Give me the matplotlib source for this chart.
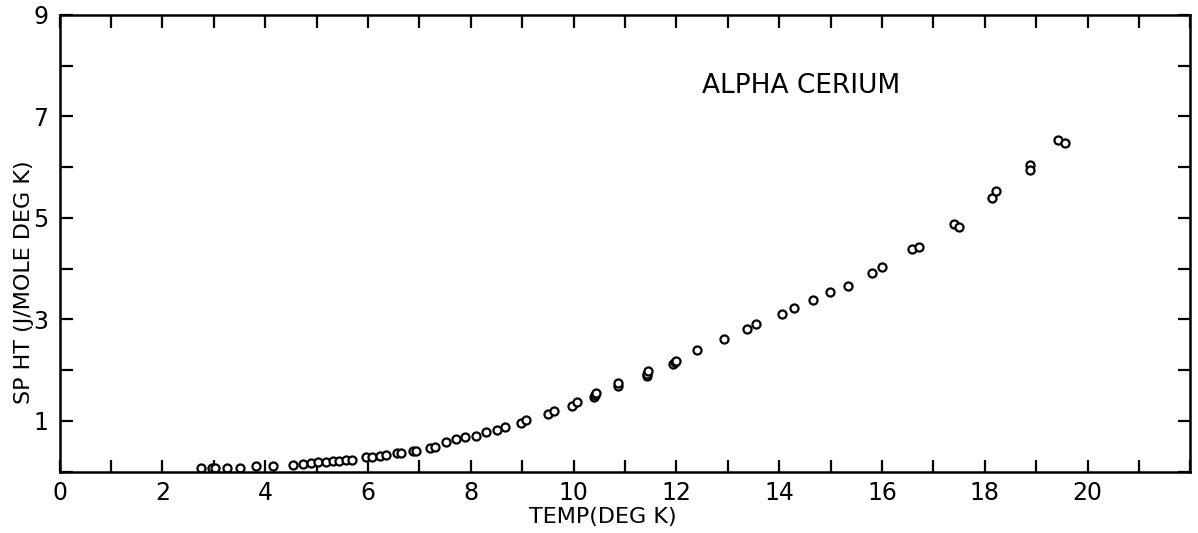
import matplotlib
matplotlib.use("Agg")
import matplotlib.pyplot as plt
from matplotlib.ticker import FixedLocator, FuncFormatter

#
# --- Data (temperature in K, specific heat in J/mole K)
#
temp_k = [
    2.76, 2.96, 3.02, 3.25, 3.51, 3.83, 4.16, 4.54, 4.74, 4.90,
    5.03, 5.19, 5.31, 5.44, 5.58, 5.68, 5.96, 6.07, 6.23, 6.35,
    6.57, 6.65, 6.88, 6.94, 7.20, 7.30, 7.51, 7.71, 7.88, 8.11,
    8.29, 8.51, 8.67, 8.98, 9.08, 9.51, 9.61, 9.97, 10.06, 10.40,
    10.42, 10.44, 10.86, 10.86, 11.42, 11.43, 11.44, 11.93, 11.97, 12.00,
    12.41, 12.93, 13.38, 13.54, 14.05, 14.28, 14.66, 14.99, 15.33, 15.80,
    16.00, 16.59, 16.72, 17.40, 17.49, 18.14, 18.22, 18.88, 18.88, 19.43,
    19.56,
]
sp_heat = [
    0.07, 0.07, 0.08, 0.08, 0.08, 0.11, 0.11, 0.13, 0.16, 0.17,
    0.19, 0.20, 0.21, 0.22, 0.23, 0.23, 0.28, 0.28, 0.31, 0.33,
    0.37, 0.37, 0.40, 0.40, 0.47, 0.48, 0.59, 0.64, 0.68, 0.71,
    0.78, 0.83, 0.89, 0.95, 1.02, 1.13, 1.20, 1.29, 1.38, 1.48,
    1.52, 1.55, 1.68, 1.75, 1.88, 1.93, 1.98, 2.12, 2.16, 2.19,
    2.39, 2.61, 2.81, 2.92, 3.10, 3.22, 3.38, 3.54, 3.65, 3.92,
    4.03, 4.39, 4.43, 4.89, 4.83, 5.39, 5.53, 6.04, 5.94, 6.54,
    6.47,
]

x_ticks = list(range(0, 23))
x_labels = [0, 2, 4, 6, 8, 10, 12, 14, 16, 18, 20]
y_ticks = list(range(0, 10))
y_labels = [1, 3, 5, 7, 9]

#
# --- Plotting
#
plt.rcParams["font.family"] = ["DejaVu Sans"]
fig = plt.figure(figsize=(11.98, 5.33), dpi=100)
ax = fig.add_axes([0.0497, 0.115, 0.944, 0.857])

ax.plot(
    temp_k,
    sp_heat,
    linestyle="",
    marker="o",
    markersize=5.8,
    markerfacecolor="white",
    markeredgecolor="black",
    markeredgewidth=1.6,
)

ax.set_xlim(0, 22)
ax.set_ylim(0, 9)

ax.xaxis.set_major_locator(FixedLocator(x_ticks))
ax.yaxis.set_major_locator(FixedLocator(y_ticks))
ax.xaxis.set_major_formatter(
    FuncFormatter(lambda v, p: f"{int(round(v))}" if int(round(v)) in x_labels else "")
)
ax.yaxis.set_major_formatter(
    FuncFormatter(lambda v, p: f"{int(round(v))}" if int(round(v)) in y_labels else "")
)
ax.tick_params(
    axis="both", which="major", direction="in", length=9, width=1.6,
    top=True, right=True, labelsize=17, color="black",
)
ax.tick_params(axis="x", pad=7)
ax.tick_params(axis="y", pad=8)

for spine in ax.spines.values():
    spine.set_linewidth(1.8)

#
# --- Labels
#
ax.set_xlabel("TEMP(DEG K)", fontsize=16)
ax.xaxis.set_label_coords(0.48, -0.078)
ax.set_ylabel("SP HT (J/MOLE DEG K)", fontsize=16)
ax.yaxis.set_label_coords(-0.023, 0.415)
ax.text(14.43, 7.6, "ALPHA CERIUM", fontsize=19, ha="center", va="center")

fig.savefig("out.png", dpi=100)
